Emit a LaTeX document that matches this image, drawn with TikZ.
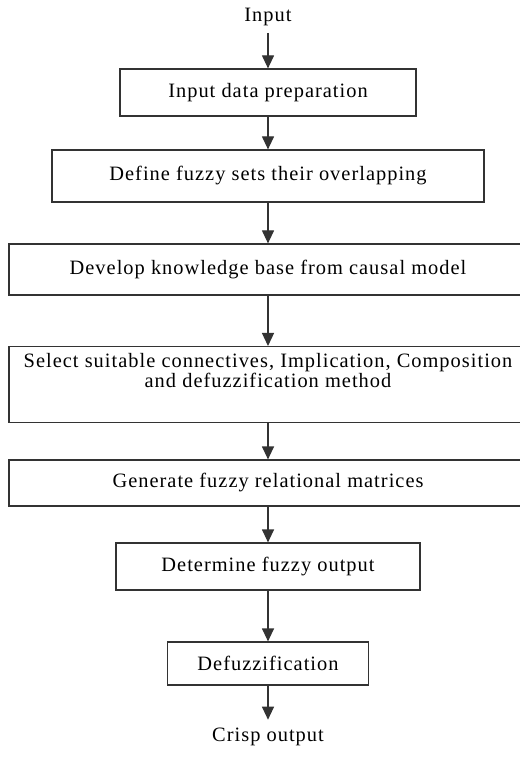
\documentclass[tikz,border=0pt]{standalone}
\usepackage{fontspec}
\setmainfont{Liberation Serif}[LetterSpace=5]
\usetikzlibrary{arrows.meta}
\definecolor{dgray}{rgb}{0.2, 0.2, 0.2}

\tikzset{
  stepbox/.style={draw=dgray, line width=0.6pt, inner sep=0pt, align=center},
  flow/.style={draw=dgray, line width=0.6pt, -{Triangle[length=6.5pt, width=6pt]}},
}

\begin{document}
\begin{tikzpicture}[x=0.5pt, y=-0.5pt, font=\fontsize{10.2}{10}\selectfont]
    \useasboundingbox (0, 0) rectangle (519, 758);

    \node (in) at (268, 17) {Input};
    \node [stepbox, minimum width=148pt, minimum height=23.5pt] (prep) at (268, 92.5) {Input data preparation};
    \node [stepbox, minimum width=216pt, minimum height=26pt] (sets) at (268, 176) {Define fuzzy sets their overlapping};
    \node [stepbox, minimum width=259pt, minimum height=25.5pt] (kb) at (268, 269.5) {Develop knowledge base from causal model};
    % two lines sit high in the box, struts give the spacing
    \node [stepbox, minimum width=259pt, anchor=north] (sel) at (268, 346)
        {\rule{0pt}{10.5pt}Select suitable connectives, Implication, Composition\\and defuzzification method\rule[-17.5pt]{0pt}{17.5pt}};
    \node [stepbox, minimum width=259pt, minimum height=23pt] (rel) at (268, 483) {Generate fuzzy relational matrices};
    \node [stepbox, minimum width=152pt, minimum height=23.5pt] (fout) at (268, 566.5) {Determine fuzzy output};
    \node [stepbox, minimum width=100.5pt, minimum height=21.5pt] (defz) at (268, 663.5) {Defuzzification};
    \node [inner sep=4pt] (out) at (268, 737) {Crisp output};

    % arrows down the chain
    \draw [flow] (in) -- (prep);
    \draw [flow] (prep) -- (sets);
    \draw [flow] (sets) -- (kb);
    \draw [flow] (kb) -- (sel);
    \draw [flow] (sel) -- (rel);
    \draw [flow] (rel) -- (fout);
    \draw [flow] (fout) -- (defz);
    \draw [flow] (defz) -- (out);
\end{tikzpicture}
\end{document}
